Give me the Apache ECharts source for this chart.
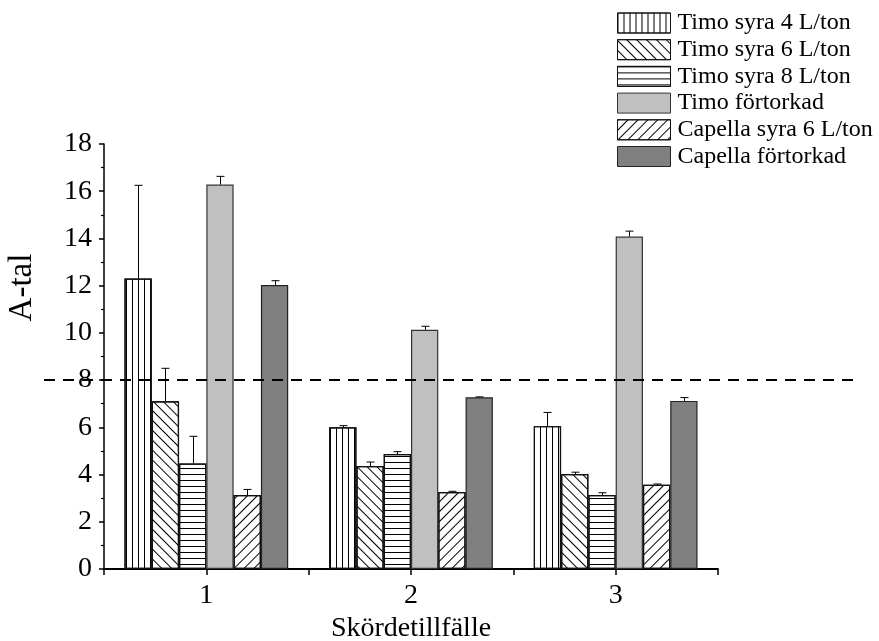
<!DOCTYPE html>
<html>
<head>
<meta charset="utf-8">
<script src="https://cdn.jsdelivr.net/npm/echarts@6/dist/echarts.min.js"></script>
<style>
  html, body { margin: 0; padding: 0; background: #fff; }
  #chart { width: 879px; height: 641px; }
</style>
</head>
<body>
<div id="chart"></div>
<script>
// Harvest occasions (Skördetillfälle)
var categories = ['1', '2', '3'];

// Series names
var seriesNames = [
  'Timo syra 4 L/ton',
  'Timo syra 6 L/ton',
  'Timo syra 8 L/ton',
  'Timo förtorkad',
  'Capella syra 6 L/ton',
  'Capella förtorkad'
];

// Mean A-tal per harvest occasion
var timoSyra4 = [12.3, 6.0, 6.05];
var timoSyra6 = [7.1, 4.36, 4.02];
var timoSyra8 = [4.47, 4.87, 3.13];
var timoFortorkad = [16.28, 10.13, 14.08];
var capellaSyra6 = [3.13, 3.26, 3.57];
var capellaFortorkad = [12.03, 7.27, 7.12];

// Upper error (standard deviation)
var errSyra4 = [3.95, 0.07, 0.58];
var errSyra6 = [1.4, 0.17, 0.08];
var errSyra8 = [1.15, 0.1, 0.1];
var errFortorkad = [0.35, 0.15, 0.23];
var errCapellaSyra6 = [0.24, 0.03, 0.03];
var errCapellaFortorkad = [0.18, 0.02, 0.14];

// Reference level
var threshold = 8;

// Y tick values
var yMin = 0, yMax = 18, yStep = 2;

var values = [timoSyra4, timoSyra6, timoSyra8, timoFortorkad, capellaSyra6, capellaFortorkad];
var errors = [errSyra4, errSyra6, errSyra8, errFortorkad, errCapellaSyra6, errCapellaFortorkad];

var FONT = '"Liberation Serif", "Times New Roman", serif';

var styles = [
  { color: '#ffffff', borderColor: '#111', decal: { symbol: 'rect', symbolSize: 1, color: '#000', dashArrayX: [1, 5], dashArrayY: [1, 0] } },
  { color: '#ffffff', borderColor: '#111', decal: { symbol: 'rect', symbolSize: 1, color: '#000', dashArrayX: [1, 0], dashArrayY: [1, 6], rotation: Math.PI / 4 } },
  { color: '#ffffff', borderColor: '#111', decal: { symbol: 'rect', symbolSize: 1, color: '#000', dashArrayX: [1, 0], dashArrayY: [1, 5] } },
  { color: '#c0c0c0', borderColor: '#333' },
  { color: '#ffffff', borderColor: '#111', decal: { symbol: 'rect', symbolSize: 1, color: '#000', dashArrayX: [1, 0], dashArrayY: [1, 6], rotation: -Math.PI / 4 } },
  { color: '#808080', borderColor: '#222' }
];

var series = seriesNames.map(function (name, i) {
  var st = styles[i];
  var itemStyle = { color: st.color, borderColor: st.borderColor, borderWidth: 1.2 };
  if (st.decal) itemStyle.decal = st.decal;
  return {
    name: name,
    type: 'bar',
    xAxisIndex: 0,
    yAxisIndex: 0,
    barGap: '0%',
    barCategoryGap: '20%',
    itemStyle: itemStyle,
    emphasis: { disabled: true },
    data: values[i]
  };
});

// Error bars: [category index, series index, mean, mean + error]
var errData = [];
for (var s = 0; s < values.length; s++) {
  for (var c = 0; c < categories.length; c++) {
    errData.push([c, s, values[s][c], values[s][c] + errors[s][c]]);
  }
}

series.push({
  type: 'custom',
  name: 'err',
  xAxisIndex: 0,
  yAxisIndex: 0,
  z: 5,
  silent: true,
  encode: { x: 0, y: [2, 3] },
  data: errData,
  renderItem: function (params, api) {
    var cat = api.value(0);
    var idx = api.value(1);
    var base = api.coord([cat, api.value(2)]);
    var top = api.coord([cat, api.value(3)]);
    var catW = api.size([1, 0])[0];
    var barW = catW * 0.8 / 6;
    var x = Math.round(base[0] + (idx - 2.5) * barW) + 0.5;
    var cap = 4;
    var st = { stroke: '#000', lineWidth: 1 };
    return {
      type: 'group',
      children: [
        { type: 'line', shape: { x1: x, y1: base[1], x2: x, y2: top[1] }, style: st },
        { type: 'line', shape: { x1: x - cap, y1: top[1], x2: x + cap, y2: top[1] }, style: st }
      ]
    };
  }
});

// Dashed reference line across the full width
series.push({
  type: 'line',
  name: 'threshold',
  xAxisIndex: 2,
  yAxisIndex: 1,
  symbol: 'none',
  silent: true,
  z: 6,
  lineStyle: { color: '#000', width: 2, type: [11, 8] },
  data: [[0, threshold], [1, threshold]]
});

var option = {
  animation: false,
  backgroundColor: '#ffffff',
  legend: {
    data: seriesNames,
    orient: 'vertical',
    left: 617,
    top: 11,
    padding: 0,
    itemWidth: 53,
    itemHeight: 20,
    itemGap: 2.7,
    icon: 'rect',
    selectedMode: false,
    itemStyle: { borderWidth: 1 },
    textStyle: { fontFamily: FONT, fontSize: 24, color: '#000', padding: [0, 0, 0, 2] }
  },
  grid: [
    { left: 104, right: 161, top: 144, bottom: 72, outerBoundsMode: 'none', containLabel: false },
    { left: 44, right: 24, top: 144, bottom: 72, outerBoundsMode: 'none', containLabel: false }
  ],
  xAxis: [
    {
      type: 'category',
      gridIndex: 0,
      data: categories,
      name: 'Skördetillfälle',
      nameLocation: 'middle',
      nameGap: 44,
      nameTextStyle: { fontFamily: FONT, fontSize: 28, color: '#000' },
      axisLine: { lineStyle: { color: '#000', width: 1.8 } },
      axisTick: { show: true, interval: 0, length: 6, lineStyle: { color: '#000', width: 1.5 } },
      axisLabel: { fontFamily: FONT, fontSize: 28, color: '#000', margin: 13 }
    },
    {
      type: 'category',
      gridIndex: 0,
      data: categories,
      position: 'bottom',
      axisLine: { show: false },
      axisTick: { show: true, alignWithLabel: true, length: 6, lineStyle: { color: '#000', width: 1.5 } },
      axisLabel: { show: false }
    },
    {
      type: 'value',
      gridIndex: 1,
      min: 0,
      max: 1,
      show: false
    }
  ],
  yAxis: [
    {
      type: 'value',
      gridIndex: 0,
      min: yMin,
      max: yMax,
      interval: yStep,
      name: 'A-tal',
      nameLocation: 'middle',
      nameRotate: 90,
      nameGap: 65,
      nameTextStyle: { fontFamily: FONT, fontSize: 33, color: '#000', padding: [0, 0, 0, 138] },
      axisLine: { show: true, lineStyle: { color: '#000', width: 1.5 } },
      axisTick: { show: true, length: 5, lineStyle: { color: '#000', width: 1.5 } },
      minorTick: { show: true, splitNumber: 2, length: 3, lineStyle: { color: '#000', width: 1.2 } },
      splitLine: { show: false },
      axisLabel: { fontFamily: FONT, fontSize: 28, color: '#000', margin: 12 }
    },
    {
      type: 'value',
      gridIndex: 1,
      min: yMin,
      max: yMax,
      show: false
    }
  ],
  series: series
};

var chart = echarts.init(document.getElementById('chart'), null, { renderer: 'canvas' });
chart.setOption(option);
</script>
</body>
</html>
